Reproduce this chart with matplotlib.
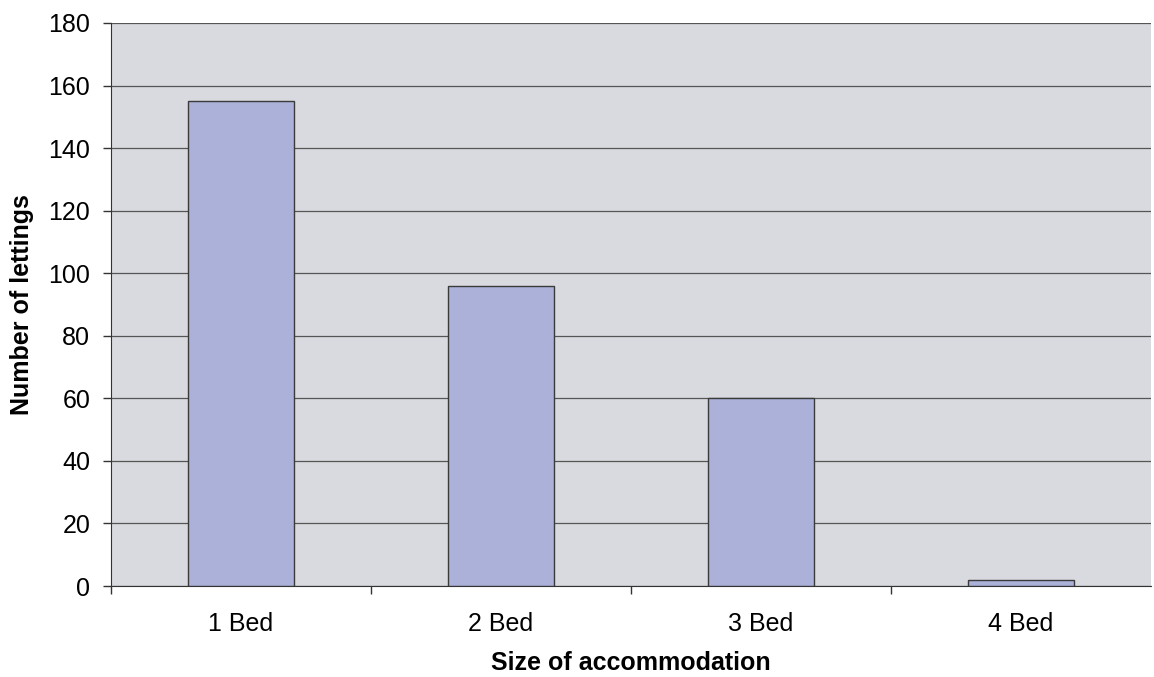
import matplotlib.pyplot as plt
import numpy as np

plt.rcParams["font.family"] = ["Liberation Sans", "DejaVu Sans"]

categories = ["1 Bed", "2 Bed", "3 Bed", "4 Bed"]
lettings = [155, 96, 60, 2]
y_ticks = [0, 20, 40, 60, 80, 100, 120, 140, 160, 180]

W, H = 1154, 677
fig = plt.figure(figsize=(W / 100, H / 100), dpi=100)
# plot area in pixels: left 111, right 1151, top 23, bottom 586
ax = fig.add_axes([111 / W, (H - 586) / H, 1040 / W, 563 / H])
ax.set_facecolor("#D9DADF")

x = np.arange(len(categories))
ax.bar(x, lettings, width=0.404, color="#ABB1D8", edgecolor="#3a3a3a",
       linewidth=1.0, zorder=3)

ax.set_xlim(-0.5, len(categories) - 0.5)
ax.set_ylim(0, 180)
ax.set_yticks(y_ticks)
ax.yaxis.grid(True, color="#555555", linewidth=0.9, zorder=1)

# category labels centred, ticks at category boundaries
ax.set_xticks(np.arange(len(categories)) - 0.5)
ax.set_xticklabels([])
ax.set_xticks(x, minor=True)
ax.set_xticklabels(categories, minor=True)
ax.tick_params(axis="x", which="minor", length=0, pad=19, labelsize=18)
ax.tick_params(axis="x", which="major", length=6, width=1, color="#333333")
ax.tick_params(axis="y", length=6, width=1, color="#333333", labelsize=18, pad=9)

for side in ["top", "right"]:
    ax.spines[side].set_visible(False)
for side in ["left", "bottom"]:
    ax.spines[side].set_color("#333333")

fig.text(631 / W, 1 - 663 / H, "Size of accommodation", fontsize=18,
         fontweight="bold", ha="center", va="center")
fig.text(22 / W, 1 - 305 / H, "Number of lettings", fontsize=18,
         fontweight="bold", ha="center", va="center", rotation=90)

fig.savefig("out.png", dpi=100)
